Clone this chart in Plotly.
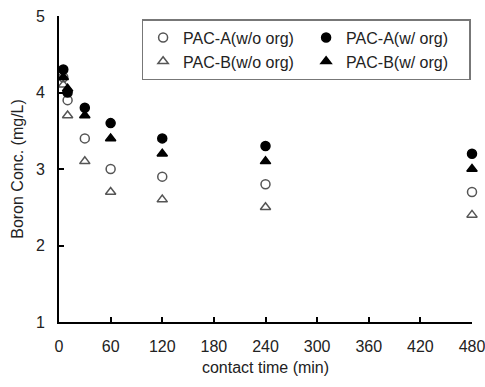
import plotly.graph_objects as go

time_min = [5, 10, 30, 60, 120, 240, 480]
pac_a_wo = [4.2, 3.9, 3.4, 3.0, 2.9, 2.8, 2.7]
pac_a_w = [4.3, 4.0, 3.8, 3.6, 3.4, 3.3, 3.2]
pac_b_wo = [4.1, 3.7, 3.1, 2.7, 2.6, 2.5, 2.4]
pac_b_w = [4.2, 4.05, 3.7, 3.4, 3.2, 3.1, 3.0]

x_ticks = [0, 60, 120, 180, 240, 300, 360, 420, 480]
y_ticks = [1, 2, 3, 4, 5]

series = [
    ("PAC-A(w/o org)", pac_a_wo, "circle-open", "#555555"),
    ("PAC-A(w/ org)", pac_a_w, "circle", "black"),
    ("PAC-B(w/o org)", pac_b_wo, "triangle-up-open", "#555555"),
    ("PAC-B(w/ org)", pac_b_w, "triangle-up", "black"),
]

fig = go.Figure()
for name, vals, sym, col in series:
    fig.add_trace(go.Scatter(
        x=time_min, y=vals, mode="markers", name=name,
        marker=dict(symbol=sym, size=9, color=col, line=dict(color=col, width=1.5)),
        cliponaxis=False,
    ))

font = "Liberation Sans, Arial, sans-serif"
fig.update_layout(
    width=485, height=387,
    margin=dict(l=59, r=13, t=16, b=65, autoexpand=False),
    paper_bgcolor="white", plot_bgcolor="white",
    font=dict(family=font, size=16, color="#222222"),
    legend=dict(
        orientation="h", x=0.2, y=0.99, xanchor="left", yanchor="top",
        entrywidth=118, bordercolor="#777777", borderwidth=1.5,
        bgcolor="white", font=dict(size=16), itemwidth=30,
        tracegroupgap=0,
    ),
    showlegend=True,
)
fig.update_xaxes(
    range=[0, 480], tickvals=x_ticks, ticks="inside", ticklen=5,
    tickwidth=2, tickcolor="black", ticklabelstandoff=9, automargin=False,
    ticklabeloverflow="allow",
    showline=True, linecolor="black", linewidth=2, showgrid=False, zeroline=False,
    title=dict(text="contact time (min)", standoff=8, font=dict(size=16)),
    tickfont=dict(size=16),
)
fig.update_yaxes(
    range=[1, 5], tickvals=y_ticks, ticks="inside", ticklen=5,
    tickwidth=2, tickcolor="black", ticklabelstandoff=9, automargin=False,
    ticklabeloverflow="allow",
    showline=True, linecolor="black", linewidth=2, showgrid=False, zeroline=False,
    title=dict(text="Boron Conc. (mg/L)", standoff=8, font=dict(size=16)),
    tickfont=dict(size=16),
)
fig.write_html("out.html")
